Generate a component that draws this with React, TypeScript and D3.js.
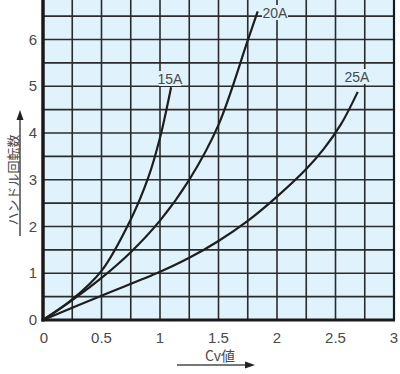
import React from "react";
import * as d3 from "d3";

const xTicks = [0, 0.5, 1, 1.5, 2, 2.5, 3];
const yTicks = [0, 1, 2, 3, 4, 5, 6];
const seriesNames = ["15A", "20A", "25A"];
const s15A: [number, number][] = [[0, 0], [0.25, 0.44], [0.5, 1.05], [0.75, 2.15], [0.9, 3.05], [1.0, 3.9], [1.095, 4.98]];
const s20A: [number, number][] = [[0, 0], [0.25, 0.425], [0.5, 0.9], [0.75, 1.45], [1.0, 2.125], [1.25, 3.0], [1.5, 4.175], [1.75, 5.98], [1.835, 6.6]];
const s25A: [number, number][] = [[0, 0], [0.5, 0.52], [1.0, 1.03], [1.25, 1.33], [1.5, 1.69], [1.75, 2.12], [2.0, 2.64], [2.25, 3.23], [2.4, 3.66], [2.55, 4.2], [2.69, 4.88]];
const yLabel = "ハンドル回転数";
const xLabel = "Cv値";

export default function App() {
  const W = 400, H = 374;
  const x = d3.scaleLinear().domain([0, 3]).range([43, 394]);
  const y = d3.scaleLinear().domain([0, 6.845]).range([320, 0]);
  const line = d3.line<[number, number]>().x(d => x(d[0])).y(d => y(d[1])).curve(d3.curveCatmullRom.alpha(0.5));
  const vGrid = d3.range(0.25, 3, 0.25);
  const hGrid = d3.range(0.5, 6.6, 0.5);
  const series = [s15A, s20A, s25A];
  const fill = "#e0f2fc";
  const gridC = "#2b2b2b";
  const txt = "#4a4a4a";
  const numFont = "'Liberation Sans Narrow', 'Liberation Sans', Arial, sans-serif";
  const jpFont = "'Noto Sans CJK JP', sans-serif";
  const labels = [
    { t: seriesNames[0], cx: 170, cy: 79, w: 22 },
    { t: seriesNames[1], cx: 275, cy: 13, w: 26 },
    { t: seriesNames[2], cx: 357, cy: 77, w: 24 },
  ];
  return (
    <svg width={W} height={H} style={{ position: "absolute", left: 0, top: 0 }}>
      <rect x={0} y={0} width={W} height={H} fill="#fff" />
      <rect x={x(0)} y={y(6.845)} width={x(3) - x(0)} height={y(0) - y(6.845)} fill={fill} />
      {vGrid.map(v => (
        <line key={"v" + v} x1={x(v)} x2={x(v)} y1={y(6.845)} y2={y(0)} stroke={gridC} strokeWidth={1.6} />
      ))}
      {hGrid.map(v => (
        <line key={"h" + v} x1={x(0)} x2={x(3)} y1={y(v)} y2={y(v)} stroke={gridC} strokeWidth={1.6} />
      ))}
      {labels.map(l => (
        <rect key={"r" + l.t} x={l.cx - l.w / 2} y={l.cy - 8} width={l.w} height={15} fill={fill} />
      ))}
      {series.map((s, i) => (
        <path key={"s" + i} d={line(s) || ""} fill="none" stroke="#1e1e1e" strokeWidth={2.2} />
      ))}
      {labels.map(l => (
        <text key={"t" + l.t} x={l.cx} y={l.cy + 5} textAnchor="middle" fontSize={14} fill={txt} fontFamily={numFont}>{l.t}</text>
      ))}
      <line x1={x(0)} x2={x(0)} y1={0} y2={y(0) + 1.5} stroke="#1a1a1a" strokeWidth={3.5} />
      <line x1={x(0) - 1.5} x2={x(3) + 1} y1={y(0)} y2={y(0)} stroke="#1a1a1a" strokeWidth={3} />
      <line x1={x(3)} x2={x(3)} y1={0} y2={y(0)} stroke="#1a1a1a" strokeWidth={2.2} />
      {yTicks.map(v => (
        <text key={"yt" + v} x={37} y={y(v) + 5} textAnchor="end" fontSize={15} fill={txt} fontFamily={numFont}>{v}</text>
      ))}
      {xTicks.map(v => (
        <text key={"xt" + v} x={x(v) + (v === 0 ? 1 : 0)} y={343} textAnchor="middle" fontSize={15} fill={txt} fontFamily={numFont}>{String(v)}</text>
      ))}
      <text x={12} y={180} transform="rotate(-90 12 180)" textAnchor="middle" dominantBaseline="central" fontSize={13} fill={txt} fontFamily={jpFont}>{yLabel}</text>
      <line x1={20} x2={20} y1={236} y2={118} stroke={txt} strokeWidth={1.5} />
      <path d="M20,110 L16.5,120 L23.5,120 Z" fill="#222" />
      <text x={220} y={361} textAnchor="middle" fontSize={14} fill={txt} fontFamily={jpFont}>{xLabel}</text>
      <line x1={177} x2={247} y1={365} y2={365} stroke={txt} strokeWidth={1.5} />
      <path d="M255,365 L245,361.5 L245,368.5 Z" fill="#222" />
    </svg>
  );
}
